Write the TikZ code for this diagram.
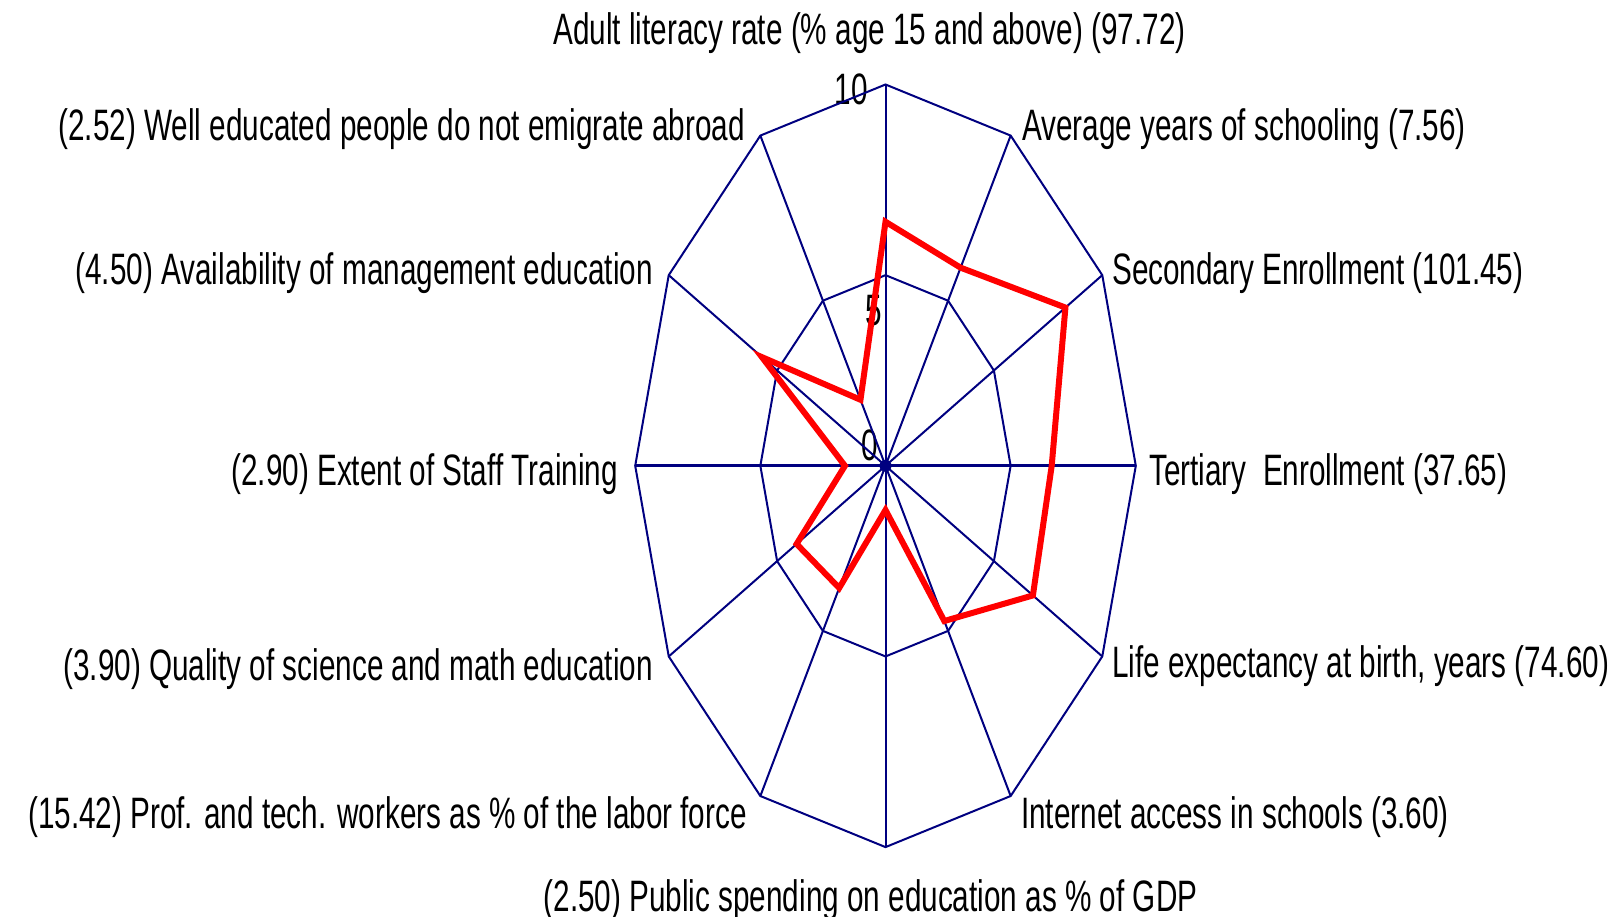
\documentclass[tikz,border=0pt]{standalone}
\usepackage{fontspec}
\setmainfont{Liberation Sans}[FakeStretch=0.675]
\definecolor{navy}{RGB}{0,0,128}
\begin{document}
\begin{tikzpicture}[x=1pt,y=-1pt,
  lbl/.style={inner sep=0pt, text=black, font=\fontsize{44}{48}\selectfont},
  gridline/.style={draw=navy, line width=2pt},
  dataline/.style={draw=red, line width=6pt, line join=miter}]
\useasboundingbox (0,0) rectangle (1622,917);
\fill[white] (0,0) rectangle (1622,917);
\def\cx{885.5}\def\cy{465.8}\def\rx{250.3}\def\ry{381.3}
\coordinate (o) at (\cx,\cy);
\foreach \k in {0,...,11}{
  \coordinate (a\k) at ({\cx+\rx*sin(30*\k)},{\cy-\ry*cos(30*\k)});
  \coordinate (m\k) at ({\cx+0.5*\rx*sin(30*\k)},{\cy-0.5*\ry*cos(30*\k)});
}
\foreach \k/\v in {0/0.64,1/0.60,2/0.83,3/0.664,4/0.68,5/0.47,6/0.116,7/0.37,8/0.41,9/0.162,10/0.57,11/0.20}{
  \coordinate (d\k) at ({\cx+\v*\rx*sin(30*\k)},{\cy-\v*\ry*cos(30*\k)});
}
% labels
\node[lbl, anchor=base] (l0) at (869.5,45) {Adult literacy rate (\% age 15 and above) (97.72)};
\node[lbl, anchor=base west] (l1) at (1022,141) {Average years of schooling (7.56)};
\node[lbl, anchor=base west] (l2) at (1112,285) {Secondary Enrollment (101.45)};
\node[lbl, anchor=base west] (l3) at (1149,485) {Tertiary\ \ Enrollment (37.65)};
\node[lbl, anchor=base west] (l4) at (1112,677) {Life expectancy at birth, years (74.60)};
\node[lbl, anchor=base west] (l5) at (1021,828) {Internet access in schools (3.60)};
\node[lbl, anchor=base] (l6) at (870.5,911) {(2.50) Public spending on education as \% of GDP};
\node[lbl, anchor=base east] (l7) at (747,828) {(15.42) Prof. and tech. workers as \% of the labor force};
\node[lbl, anchor=base east] (l8) at (653,680) {(3.90) Quality of science and math education};
\node[lbl, anchor=base east] (l9) at (618,485) {(2.90) Extent of Staff Training};
\node[lbl, anchor=base east] (l10) at (653,285) {(4.50) Availability of management education};
\node[lbl, anchor=base east] (l11) at (745,141) {(2.52) Well educated people do not emigrate abroad};
% scale labels
\node[lbl, anchor=base east] (s10) at (868,105) {10};
\node[lbl, anchor=base east] (s5) at (882,325) {5};
\node[lbl, anchor=base east] (s0) at (878,460) {0};
% grid
\foreach \k in {0,...,11}{ \draw[gridline] (o) -- (a\k); }
\draw[gridline, line width=3pt] (a3) -- (a9);
\draw[gridline] (a0) \foreach \k in {1,...,11}{ -- (a\k)} -- cycle;
\draw[gridline] (m0) \foreach \k in {1,...,11}{ -- (m\k)} -- cycle;
\fill[navy] (o) circle (6);
% data
\draw[dataline] (d0) \foreach \k in {1,...,11}{ -- (d\k)} -- cycle;
\end{tikzpicture}
\end{document}
